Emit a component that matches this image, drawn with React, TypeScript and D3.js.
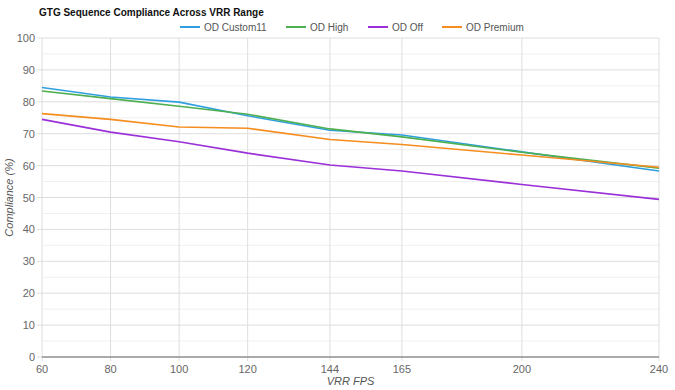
import React from 'react';
import * as d3 from 'd3';

const fps = [60, 80, 100, 120, 144, 165, 200, 240];
const odCustom11 = [84.5, 81.5, 79.9, 75.6, 71.1, 69.6, 64.3, 58.3];
const odHigh = [83.4, 81.0, 78.6, 76.1, 71.5, 69.0, 64.2, 59.2];
const odOff = [74.5, 70.5, 67.5, 63.9, 60.2, 58.3, 54.1, 49.4];
const odPremium = [76.3, 74.5, 72.1, 71.7, 68.2, 66.6, 63.3, 59.5];
const yTicks = [0, 10, 20, 30, 40, 50, 60, 70, 80, 90, 100];

const series = [
  { name: 'OD Custom11', values: odCustom11, color: '#2f9fe0' },
  { name: 'OD High', values: odHigh, color: '#4caf50' },
  { name: 'OD Off', values: odOff, color: '#9b30d9' },
  { name: 'OD Premium', values: odPremium, color: '#f58d1f' },
];

const W = 675;
const H = 390;
const margin = { top: 38, right: 16, bottom: 33, left: 42 };
const font = '"Liberation Sans", Arial, sans-serif';

export default function App() {
  const x = d3.scaleLinear().domain([60, 240]).range([margin.left, W - margin.right]);
  const y = d3.scaleLinear().domain([0, 100]).range([H - margin.bottom, margin.top]);

  const line = d3.line<number>()
    .x((_, i) => x(fps[i]))
    .y(d => y(d));

  const minor = d3.range(5, 100, 10);

  // legend: line swatch + label, labels measured roughly at 10px
  const labelW = [63, 39, 31, 59];
  let lx = 180;
  const legendItems = series.map((s, i) => {
    const item = { ...s, x: lx };
    lx += 20 + 4 + labelW[i] + 19;
    return item;
  });

  return (
    <svg width={W} height={H} style={{ position: 'absolute', left: 0, top: 0, fontFamily: font }}>
      <rect width={W} height={H} fill="#fff" />
      <text x={39} y={16} fontSize={10} fontWeight="bold" fill="#111">
        GTG Sequence Compliance Across VRR Range
      </text>

      {legendItems.map(s => (
        <g key={s.name}>
          <line x1={s.x} x2={s.x + 20} y1={27} y2={27} stroke={s.color} strokeWidth={2} />
          <text x={s.x + 24} y={30.5} fontSize={10} fill="#555">{s.name}</text>
        </g>
      ))}

      {minor.map(v => (
        <line key={'m' + v} x1={margin.left} x2={W - margin.right} y1={y(v)} y2={y(v)} stroke="#f0f0f0" />
      ))}
      {yTicks.map(v => (
        <g key={'y' + v}>
          <line x1={margin.left - 5} x2={W - margin.right} y1={y(v)} y2={y(v)} stroke="#dedede" />
          <text x={margin.left - 7} y={y(v) + 4} fontSize={11} fill="#666" textAnchor="end">{v}</text>
        </g>
      ))}
      {fps.map(v => (
        <g key={'x' + v}>
          <line x1={x(v)} x2={x(v)} y1={margin.top} y2={y(0) + 4} stroke="#dedede" />
          <text x={x(v)} y={y(0) + 16} fontSize={11} fill="#666" textAnchor="middle">{v}</text>
        </g>
      ))}
      <line x1={margin.left} x2={W - margin.right} y1={y(0)} y2={y(0)} stroke="#666" />

      {series.map(s => (
        <path key={s.name} d={line(s.values) || ''} fill="none" stroke={s.color} strokeWidth={1.6} />
      ))}

      <text x={(margin.left + W - margin.right) / 2} y={385} fontSize={11} fontStyle="italic" fill="#555" textAnchor="middle">
        VRR FPS
      </text>
      <text transform={`translate(13, ${(margin.top + y(0)) / 2}) rotate(-90)`} fontSize={11} fontStyle="italic" fill="#555" textAnchor="middle">
        Compliance (%)
      </text>
    </svg>
  );
}
